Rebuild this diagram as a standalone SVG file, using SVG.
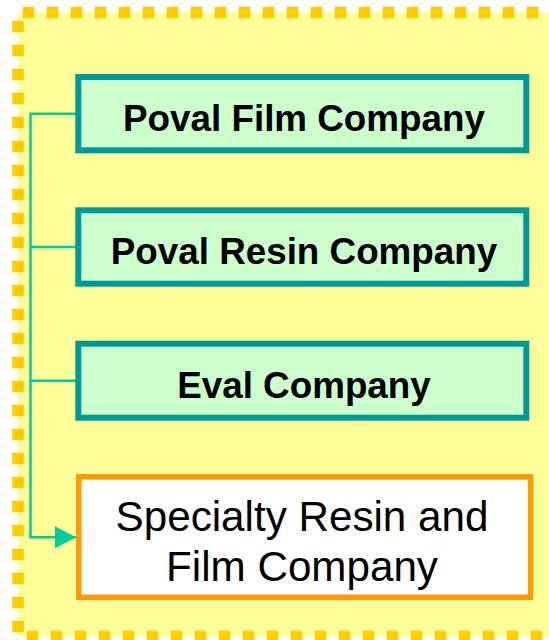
<svg xmlns="http://www.w3.org/2000/svg" width="549" height="640" viewBox="0 0 549 640">
<defs>
<style>
.frame{fill:#FFFF99;stroke:none}
.dash{stroke:#FFCC00;stroke-width:11.6;stroke-dasharray:11.6 12.4;fill:none}
.box{fill:#CCFFCC;stroke:#009999;stroke-width:6}
.obox{fill:#FFFFFF;stroke:#FF9900;stroke-width:5.5}
.lbl{font-family:"Liberation Sans",Arial,sans-serif;font-weight:bold;font-size:36.8px;fill:#000;text-anchor:middle}
.lbl2{font-family:"Liberation Sans",Arial,sans-serif;font-size:42.2px;fill:#000;text-anchor:middle}
.conn{stroke:#00CC99;stroke-width:2.5;fill:none}
</style>
<marker id="arr" markerUnits="userSpaceOnUse" markerWidth="22" markerHeight="22" refX="21" refY="11" orient="auto" viewBox="0 0 22 22">
<path d="M0,0 L21,11 L0,22 Z" fill="#00CC99"/>
</marker>
</defs>
<g id="frame">
<rect class="frame" x="18" y="12.5" width="560" height="624"/>
<line class="dash" x1="22.7" y1="12.5" x2="560" y2="12.5"/>
<line class="dash" x1="18" y1="20.7" x2="18" y2="640"/>
<line class="dash" x1="26.7" y1="636.5" x2="560" y2="636.5"/>
</g>
<g id="connectors">
<line class="conn" x1="30.5" y1="113.7" x2="30.5" y2="537.3"/>
<line class="conn" x1="29.3" y1="113.7" x2="76" y2="113.7"/>
<line class="conn" x1="30.5" y1="247" x2="76" y2="247"/>
<line class="conn" x1="30.5" y1="380.8" x2="76" y2="380.8"/>
<line class="conn" x1="29.3" y1="537.3" x2="76" y2="537.3" marker-end="url(#arr)"/>
</g>
<g id="node-poval-film">
<rect class="box" x="78.3" y="77" width="448" height="73.3"/>
<text class="lbl" x="304" y="130.5">Poval Film Company</text>
</g>
<g id="node-poval-resin">
<rect class="box" x="78.3" y="210.3" width="448" height="73.4"/>
<text class="lbl" x="304" y="264">Poval Resin Company</text>
</g>
<g id="node-eval">
<rect class="box" x="78.3" y="343.7" width="448" height="74"/>
<text class="lbl" x="304" y="397.8">Eval Company</text>
</g>
<g id="node-specialty">
<rect class="obox" x="78.8" y="476.8" width="451.7" height="120.5"/>
<text class="lbl2" x="302" y="531">Specialty Resin and</text>
<text class="lbl2" x="302" y="581">Film Company</text>
</g>
</svg>
